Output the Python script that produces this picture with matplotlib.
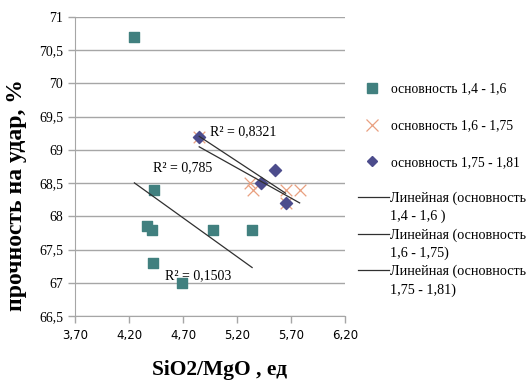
import numpy as np
import matplotlib.pyplot as plt
from matplotlib.lines import Line2D

# data
x_sq = [4.25, 4.43, 4.37, 4.41, 4.42, 4.69, 4.98, 5.34]
y_sq = [70.7, 68.4, 67.85, 67.8, 67.3, 67.0, 67.8, 67.8]
x_cr = [4.85, 5.32, 5.35, 5.65, 5.78, 5.65]
y_cr = [69.2, 68.5, 68.4, 68.4, 68.4, 68.2]
x_di = [4.85, 5.55, 5.42, 5.65]
y_di = [69.2, 68.7, 68.5, 68.2]

series_labels = ['основность 1,4 - 1,6', 'основность 1,6 - 1,75', 'основность 1,75 - 1,81']
trend_labels = ['Линейная (основность\n1,4 - 1,6 )', 'Линейная (основность\n1,6 - 1,75)',
                'Линейная (основность\n1,75 - 1,81)']
r2_labels = ['R² = 0,1503', 'R² = 0,785', 'R² = 0,8321']

xticks = [3.70, 4.20, 4.70, 5.20, 5.70, 6.20]
yticks = [66.5, 67, 67.5, 68, 68.5, 69, 69.5, 70, 70.5, 71]

serif = 'Liberation Serif'
fig = plt.figure(figsize=(5.28, 3.83), dpi=100)
ax = fig.add_axes([75/528, 1-316/383, 270/528, 299/383])

c_sq = '#41807f'
c_cr = '#e9a080'
c_di = '#4c4c8c'
ax.scatter(x_sq, y_sq, marker='s', s=62, color=c_sq, zorder=3)
ax.scatter(x_cr, y_cr, marker='x', s=70, color=c_cr, linewidths=0.9, zorder=3)
ax.scatter(x_di, y_di, marker='D', s=38, color=c_di, zorder=4)

# linear trend lines
for xs, ys in [(x_sq, y_sq), (x_cr, y_cr), (x_di, y_di)]:
    k, b = np.polyfit(xs, ys, 1)
    xx = np.array([min(xs), max(xs)])
    ax.plot(xx, k*xx + b, color='#303030', lw=0.9, zorder=5)

ax.text(4.53, 67.06, r2_labels[0], fontsize=10, family=serif)
ax.text(4.42, 68.68, r2_labels[1], fontsize=10, family=serif)
ax.text(4.95, 69.22, r2_labels[2], fontsize=10, family=serif)

ax.set_xlim(3.70, 6.20)
ax.set_ylim(66.5, 71)
ax.set_xticks(xticks)
ax.set_xticklabels([('%.2f' % v).replace('.', ',') for v in xticks], fontsize=8.5, family='DejaVu Sans')
ax.set_yticks(yticks)
ax.set_yticklabels([('%g' % v).replace('.', ',') for v in yticks], fontsize=10, family=serif)
ax.yaxis.grid(True, color='#a6a6a6', lw=1)
ax.set_axisbelow(True)
for s in ['top', 'right']:
    ax.spines[s].set_visible(False)
for s in ['left', 'bottom']:
    ax.spines[s].set_color('#a6a6a6')
ax.tick_params(axis='both', color='#a6a6a6', length=5, width=1)
ax.tick_params(axis='x', pad=4)

fig.text(17/528, 1-195/383, 'прочность на удар, %', rotation=90, ha='center', va='center',
         fontsize=17, fontweight='bold', family=serif)
fig.text(220/528, 1-370/383, 'SiO2/MgO , ед', ha='center', va='center',
         fontsize=15.5, fontweight='bold', family=serif)

h1 = [Line2D([], [], ls='', marker='s', ms=7, color=c_sq),
      Line2D([], [], ls='', marker='x', ms=8, mew=0.9, color=c_cr),
      Line2D([], [], ls='', marker='D', ms=5.5, color=c_di)]
leg1 = fig.legend(h1, series_labels, loc='upper left', bbox_to_anchor=(352/528, 1-77/383),
                  frameon=False, prop={'family': serif, 'size': 9.8}, labelspacing=1.75,
                  handlelength=2.2, handletextpad=0.3, borderaxespad=0)

# trend-line entries: handle on first text line, second text line without handle
h2, l2 = [], []
for lab in trend_labels:
    first, second = lab.split('\n')
    h2 += [Line2D([], [], color='#303030', lw=0.9), Line2D([], [], ls='', lw=0)]
    l2 += [first, second]
leg2 = fig.legend(h2, l2, loc='upper left', bbox_to_anchor=(352/528, 1-186/383),
                  frameon=False, prop={'family': serif, 'size': 10.2}, labelspacing=0.34,
                  handlelength=2.2, handletextpad=0.1, borderaxespad=0)

fig.savefig('out.png', dpi=100)
